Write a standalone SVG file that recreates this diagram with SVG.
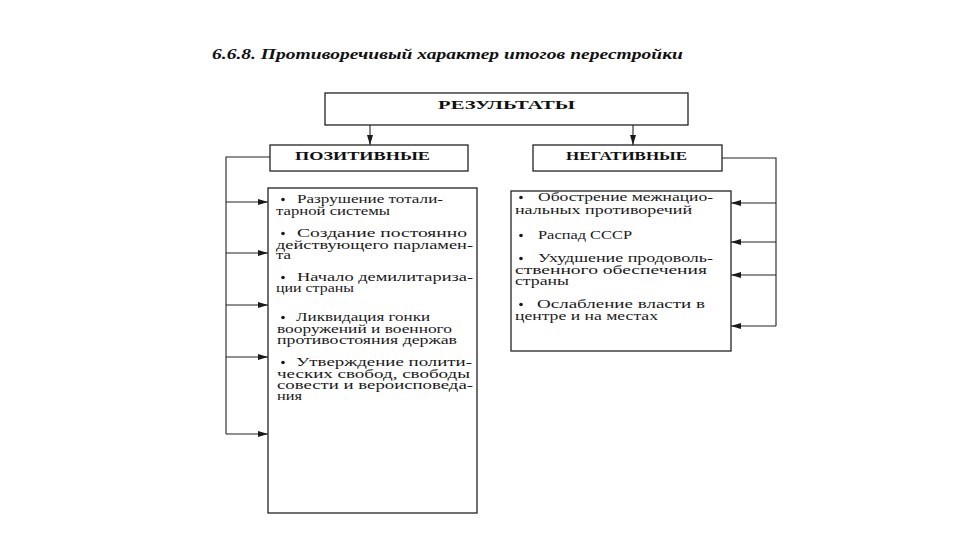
<svg xmlns="http://www.w3.org/2000/svg" width="960" height="540" viewBox="0 0 960 540">
<defs>
<marker id="ah" viewBox="0 0 10 6" refX="10" refY="3" markerWidth="10" markerHeight="6" markerUnits="userSpaceOnUse" orient="auto">
<path d="M0,0 L10,3 L0,6 Z" fill="#1a1a1a"/>
</marker>
<style>
.box{fill:#fff;stroke:#222;stroke-width:1.3}
.ln{fill:none;stroke:#222;stroke-width:1.1}
.ar{fill:none;stroke:#222;stroke-width:1.1;marker-end:url(#ah)}
.ttl{font-family:"Liberation Serif","DejaVu Serif",serif;font-weight:bold;font-style:italic;font-size:14px;fill:#111}
.hd{font-family:"Liberation Serif","DejaVu Serif",serif;font-weight:bold;font-size:12.5px;fill:#111}
.tx{font-family:"Liberation Serif","DejaVu Serif",serif;font-size:11.5px;fill:#1a1a1a}
.bl{fill:#1a1a1a}
</style>
</defs>
<rect width="960" height="540" fill="#fff"/>
<text class="ttl" x="212" y="59" textLength="471" lengthAdjust="spacingAndGlyphs">6.6.8. Противоречивый характер итогов перестройки</text>

<g id="connectors">
<path class="ar" d="M370,125 V145"/>
<path class="ar" d="M633,125 V145"/>
<path class="ln" d="M270,157 H226 V434"/>
<path class="ar" d="M226,202 H268"/>
<path class="ar" d="M226,253 H268"/>
<path class="ar" d="M226,305 H268"/>
<path class="ar" d="M226,357 H268"/>
<path class="ar" d="M226,434 H268"/>
<path class="ln" d="M722,158 H776 V326"/>
<path class="ar" d="M776,203 H731"/>
<path class="ar" d="M776,242 H731"/>
<path class="ar" d="M776,275 H731"/>
<path class="ar" d="M776,326 H731"/>
</g>

<g id="results">
<rect class="box" x="325" y="93" width="363" height="32"/>
<text class="hd" x="438" y="109" textLength="137" lengthAdjust="spacingAndGlyphs">РЕЗУЛЬТАТЫ</text>
</g>

<g id="positive">
<rect class="box" x="270" y="145" width="198" height="26"/>
<text class="hd" x="295" y="160" textLength="135" lengthAdjust="spacingAndGlyphs">ПОЗИТИВНЫЕ</text>
</g>

<g id="negative">
<rect class="box" x="533" y="145" width="189" height="26"/>
<text class="hd" x="566" y="160" textLength="121" lengthAdjust="spacingAndGlyphs">НЕГАТИВНЫЕ</text>
</g>

<g id="positive-list">
<rect class="box" x="268" y="188" width="209" height="325"/>
<circle class="bl" cx="283" cy="199.5" r="1.8"/>
<text class="tx" x="297" y="203" textLength="146" lengthAdjust="spacingAndGlyphs">Разрушение тотали-</text>
<text class="tx" x="276" y="215" textLength="114" lengthAdjust="spacingAndGlyphs">тарной системы</text>
<circle class="bl" cx="283" cy="233.5" r="1.8"/>
<text class="tx" x="297" y="237" textLength="170" lengthAdjust="spacingAndGlyphs">Создание постоянно</text>
<text class="tx" x="276" y="248.5" textLength="197" lengthAdjust="spacingAndGlyphs">действующего парламен-</text>
<text class="tx" x="276" y="259" textLength="15" lengthAdjust="spacingAndGlyphs">та</text>
<circle class="bl" cx="283" cy="277.5" r="1.8"/>
<text class="tx" x="297" y="281" textLength="176" lengthAdjust="spacingAndGlyphs">Начало демилитариза-</text>
<text class="tx" x="276" y="292" textLength="78" lengthAdjust="spacingAndGlyphs">ции страны</text>
<circle class="bl" cx="283" cy="317.5" r="1.8"/>
<text class="tx" x="296" y="321" textLength="134" lengthAdjust="spacingAndGlyphs">Ликвидация гонки</text>
<text class="tx" x="277" y="333" textLength="175" lengthAdjust="spacingAndGlyphs">вооружений и военного</text>
<text class="tx" x="277" y="344" textLength="180" lengthAdjust="spacingAndGlyphs">противостояния держав</text>
<circle class="bl" cx="283" cy="362.5" r="1.8"/>
<text class="tx" x="296" y="366" textLength="176" lengthAdjust="spacingAndGlyphs">Утверждение полити-</text>
<text class="tx" x="277" y="377.5" textLength="193" lengthAdjust="spacingAndGlyphs">ческих свобод, свободы</text>
<text class="tx" x="277" y="389" textLength="196" lengthAdjust="spacingAndGlyphs">совести и вероисповеда-</text>
<text class="tx" x="277" y="400" textLength="25" lengthAdjust="spacingAndGlyphs">ния</text>
</g>

<g id="negative-list">
<rect class="box" x="511" y="191" width="220" height="160"/>
<circle class="bl" cx="521" cy="197.5" r="1.8"/>
<text class="tx" x="538" y="201" textLength="175" lengthAdjust="spacingAndGlyphs">Обострение межнацио-</text>
<text class="tx" x="515" y="214" textLength="177" lengthAdjust="spacingAndGlyphs">нальных противоречий</text>
<circle class="bl" cx="521" cy="235.5" r="1.8"/>
<text class="tx" x="538" y="239" textLength="94" lengthAdjust="spacingAndGlyphs">Распад СССР</text>
<circle class="bl" cx="521" cy="258.5" r="1.8"/>
<text class="tx" x="538" y="262" textLength="175" lengthAdjust="spacingAndGlyphs">Ухудшение продоволь-</text>
<text class="tx" x="515" y="273.5" textLength="192" lengthAdjust="spacingAndGlyphs">ственного обеспечения</text>
<text class="tx" x="515" y="285" textLength="54" lengthAdjust="spacingAndGlyphs">страны</text>
<circle class="bl" cx="521" cy="304.5" r="1.8"/>
<text class="tx" x="537" y="308" textLength="168" lengthAdjust="spacingAndGlyphs">Ослабление власти в</text>
<text class="tx" x="515" y="320" textLength="143" lengthAdjust="spacingAndGlyphs">центре и на местах</text>
</g>
</svg>
